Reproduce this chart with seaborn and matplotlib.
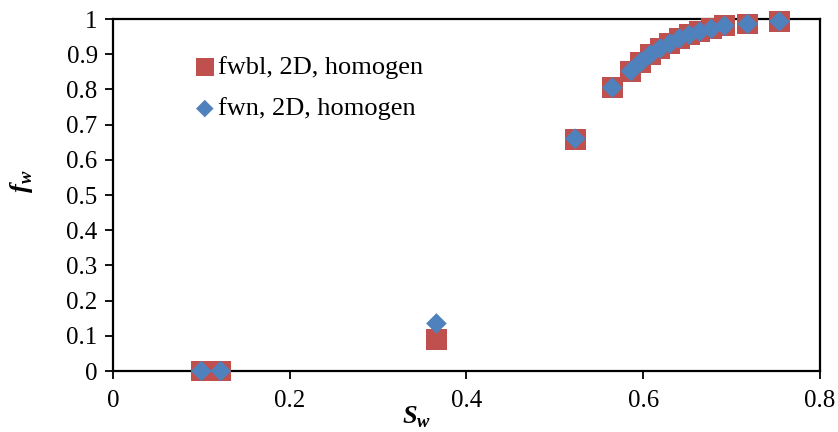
import matplotlib
matplotlib.use("Agg")
import matplotlib.pyplot as plt
import seaborn as sns
import pandas as pd

# Water saturation and fractional flow values
sw = [0.100, 0.122, 0.366, 0.523, 0.565, 0.586, 0.597, 0.608, 0.619, 0.630,
      0.641, 0.652, 0.664, 0.677, 0.692, 0.718, 0.754]
fwbl = [0.0, 0.0, 0.090, 0.658, 0.805, 0.852, 0.877, 0.899, 0.916, 0.930,
        0.945, 0.955, 0.964, 0.972, 0.981, 0.986, 0.993]
fwn = [0.0, 0.0, 0.135, 0.660, 0.805, 0.852, 0.877, 0.899, 0.916, 0.930,
       0.945, 0.955, 0.964, 0.972, 0.981, 0.986, 0.993]

label_bl = "fwbl, 2D, homogen"
label_n = "fwn, 2D, homogen"

xticks = [0, 0.2, 0.4, 0.6, 0.8]
yticks = [0, 0.1, 0.2, 0.3, 0.4, 0.5, 0.6, 0.7, 0.8, 0.9, 1.0]
xtick_labels = ["0", "0.2", "0.4", "0.6", "0.8"]
ytick_labels = ["0", "0.1", "0.2", "0.3", "0.4", "0.5", "0.6", "0.7", "0.8", "0.9", "1"]

sns.set_theme(style="white")
plt.rcParams["font.family"] = ["Liberation Serif", "DejaVu Serif"]
plt.rcParams["mathtext.fontset"] = "custom"
plt.rcParams["mathtext.bf"] = "Liberation Serif:bold:italic"
plt.rcParams["mathtext.rm"] = "Liberation Serif"

df = pd.DataFrame({"sw": sw, "fwbl": fwbl, "fwn": fwn})

fig = plt.figure(figsize=(8.38, 4.32), dpi=100)
ax = fig.add_axes([0.1348, 0.1412, 0.8437, 0.8148])

red = "#C0504D"
blue = "#4F81BD"

sns.scatterplot(data=df, x="sw", y="fwbl", marker="s", s=15.0**2, color=red,
                edgecolor="none", linewidth=0, ax=ax, label=label_bl, zorder=3)
sns.scatterplot(data=df, x="sw", y="fwn", marker="D", s=10.5**2, color=blue,
                edgecolor="none", linewidth=0, ax=ax, label=label_n, zorder=4)

ax.set_xlim(0, 0.8)
ax.set_ylim(0, 1.0)
ax.set_xticks(xticks)
ax.set_xticklabels(xtick_labels)
ax.set_yticks(yticks)
ax.set_yticklabels(ytick_labels)
ax.tick_params(axis="both", direction="out", length=6, width=1.3, color="black",
               labelsize=18, labelcolor="black", bottom=True, left=True, pad=5)
ax.tick_params(axis="x", pad=8)

for side in ["left", "bottom", "top", "right"]:
    ax.spines[side].set_visible(True)
    ax.spines[side].set_color("black")
    ax.spines[side].set_linewidth(1.6)
ax.grid(False)
for coll in ax.collections:
    coll.set_clip_on(False)

ax.set_xlabel(r"$\mathbf{S}_{\mathbf{w}}$", fontsize=19, color="black")
ax.xaxis.set_label_coords(0.43, -0.095)
ax.set_ylabel(r"$\mathbf{f}_{\mathbf{w}}$", fontsize=19, color="black")
ax.yaxis.set_label_coords(-0.11, 0.54)

leg = ax.legend(loc="upper left", bbox_to_anchor=(0.1, 0.926), frameon=False,
                fontsize=19, handlelength=0.8, handletextpad=0.1,
                labelspacing=0.68, borderaxespad=0, markerscale=0.85)
for t in leg.get_texts():
    t.set_color("black")

fig.savefig("out.png", dpi=100)
